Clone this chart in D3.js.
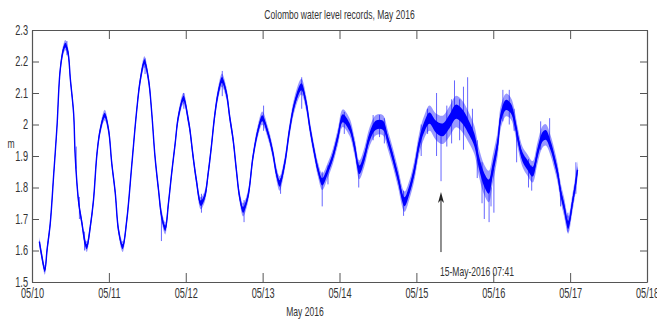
<!DOCTYPE html>
<html>
<head>
<meta charset="utf-8">
<script src="https://cdn.jsdelivr.net/npm/d3@7"></script>
<style>
  body { margin: 0; background: #fff; }
  text { font-family: "Liberation Sans", Arial, sans-serif; fill: #333; }
</style>
</head>
<body>
<div id="chart"></div>
<script>
// hours since 10-May-2016 00:00, water level (m)
const hours = [
  2.3, 3.1, 4.0, 4.7, 5.7, 6.8, 7.8, 8.8, 9.9, 10.4, 11.2, 12.0, 13.0, 13.5, 14.6, 15.6, 16.6, 17.1,
  18.2, 19.2, 20.3, 21.3, 22.7, 23.9, 24.9, 26.0, 27.0, 28.3, 29.6, 31.2, 32.7, 33.8, 35.1, 36.4,
  37.4, 38.4, 39.5, 40.5, 41.6, 42.6, 43.6, 44.7, 45.7, 47.3, 48.8, 49.3, 50.3, 51.3, 52.7, 53.9,
  55.0, 56.0, 57.0, 58.1, 59.3, 60.7, 61.7, 62.8, 63.8, 64.8, 65.9, 67.4, 69.0, 70.6, 71.9, 73.7,
  75.2, 76.3, 77.3, 78.9, 80.4, 82.0, 84.1, 85.6, 86.7, 88.2, 89.3, 90.6, 92.4, 93.9, 95.5, 97.0,
  99.1, 100.7, 102.2, 103.8, 105.4, 107.4, 109.5, 111.1, 112.6, 114.2, 116.3, 117.8, 119.4, 120.9,
  122.5, 124.1, 126.1, 128.2, 130.3, 132.4, 134.4, 136.5, 138.1, 139.6, 141.2, 142.6, 143.8, 145.4,
  146.4, 148.0, 149.5, 150.6, 151.8, 153.1, 154.7, 156.3, 157.8, 159.4, 160.4, 162.0, 163.0, 164.1,
  165.1, 166.1, 167.4, 168.7, 169.8, 170.3
];
const level = [
  1.628, 1.580, 1.538, 1.602, 1.686, 1.845, 1.993, 2.173, 2.242, 2.252, 2.231, 2.141, 2.035, 1.898, 1.750, 1.686, 1.623, 1.612,
  1.676, 1.760, 1.909, 1.983, 2.030, 1.983, 1.877, 1.782, 1.665, 1.612, 1.697, 1.877, 2.046, 2.141, 2.199, 2.141,
  2.035, 1.898, 1.792, 1.707, 1.670, 1.750, 1.845, 1.940, 2.025, 2.083, 2.014, 1.983, 1.898, 1.824, 1.750, 1.771,
  1.845, 1.930, 2.025, 2.099, 2.141, 2.099, 2.025, 1.951, 1.856, 1.771, 1.729, 1.771, 1.898, 1.983, 2.020, 1.972,
  1.909, 1.845, 1.813, 1.877, 1.983, 2.067, 2.120, 2.067, 1.993, 1.909, 1.856, 1.818, 1.856, 1.898, 1.961, 2.020,
  1.993, 1.930, 1.856, 1.898, 1.961, 1.998, 1.998, 1.951, 1.898, 1.834, 1.755, 1.792, 1.856, 1.940,
  1.993, 2.020, 1.993, 1.983, 2.009, 2.041, 2.025, 1.988, 1.951, 1.877, 1.824, 1.803, 1.856, 1.940,
  2.025, 2.062, 2.051, 2.014, 1.951, 1.898, 1.871, 1.850, 1.909, 1.961, 1.967, 1.930, 1.893, 1.845,
  1.782, 1.739, 1.681, 1.750, 1.818, 1.856
];
// half width of the noisy band around each reading
const spread = [
  0.015, 0.015, 0.015, 0.015, 0.014, 0.014, 0.014, 0.015, 0.016, 0.016, 0.016, 0.014, 0.014, 0.017, 0.015, 0.015, 0.017, 0.017,
  0.015, 0.015, 0.015, 0.015, 0.017, 0.015, 0.014, 0.014, 0.015, 0.017, 0.015, 0.014, 0.014, 0.016, 0.018, 0.016,
  0.014, 0.014, 0.016, 0.019, 0.019, 0.016, 0.014, 0.014, 0.016, 0.018, 0.016, 0.016, 0.016, 0.017, 0.019, 0.018,
  0.016, 0.016, 0.017, 0.019, 0.021, 0.019, 0.017, 0.016, 0.016, 0.017, 0.021, 0.019, 0.017, 0.019, 0.021, 0.019,
  0.019, 0.021, 0.023, 0.021, 0.021, 0.023, 0.025, 0.023, 0.021, 0.021, 0.023, 0.026, 0.024, 0.024, 0.026, 0.028,
  0.028, 0.028, 0.030, 0.030, 0.030, 0.032, 0.032, 0.030, 0.030, 0.030, 0.032, 0.030, 0.032, 0.034,
  0.036, 0.040, 0.042, 0.045, 0.048, 0.050, 0.050, 0.048, 0.045, 0.045, 0.048, 0.050, 0.045, 0.040,
  0.036, 0.036, 0.034, 0.034, 0.032, 0.032, 0.034, 0.034, 0.034, 0.034, 0.034, 0.032, 0.032, 0.030,
  0.030, 0.030, 0.028, 0.028, 0.028, 0.028
];
// single outlier spikes: hour, low, high
const spikeHours = [
  10.9, 13.8, 14.8, 16.4, 35.3, 40.4, 47.4, 52.9, 59.4, 66.2, 72.3, 77.6, 84.2, 90.6, 92.4,
  97.5, 102.0, 106.5, 108.5, 110.0, 116.0, 121.5, 123.5, 126.3, 127.7, 129.5, 131.0, 131.9, 133.5,
  134.7, 136.0, 137.5, 139.0, 140.5, 141.2, 142.7, 143.3, 144.2, 147.0, 149.0, 150.5, 151.3, 155.0,
  156.0, 158.8, 161.6, 165.0, 167.3, 169.8
];
const spikeLow = [
  2.22, 1.86, 1.70, 1.60, 2.16, 1.63, 2.05, 1.72, 2.09, 1.69, 1.98, 1.78, 2.05, 1.74, 1.81,
  1.97, 1.80, 1.95, 1.96, 1.94, 1.71, 1.90, 1.97, 1.90, 1.82, 1.93, 1.94, 2.02, 1.95,
  1.92, 2.00, 1.96, 1.83, 1.75, 1.70, 1.69, 1.74, 1.72, 2.01, 2.00, 1.98, 1.88, 1.80,
  1.79, 1.92, 1.93, 1.74, 1.66, 1.78
];
const spikeHigh = [
  2.265, 1.93, 1.77, 1.66, 2.21, 1.71, 2.10, 1.78, 2.17, 1.76, 2.06, 1.83, 2.15, 1.85, 1.87,
  2.04, 1.88, 2.03, 2.03, 2.02, 1.79, 2.00, 2.05, 2.10, 1.99, 2.06, 2.08, 2.14, 2.08,
  2.12, 2.15, 2.05, 1.95, 1.88, 1.84, 1.82, 1.80, 1.86, 2.11, 2.11, 2.05, 1.99, 1.89,
  1.87, 2.01, 2.02, 1.80, 1.72, 1.88
];

const yTicks = [1.5, 1.6, 1.7, 1.8, 1.9, 2, 2.1, 2.2, 2.3];
const annoHour = 5 * 24 + 7 + 41 / 60;
const annoText = '15-May-2016 07:41';
const annoFrom = 1.595, annoTo = 1.786;

const width = 657, height = 322;
const m = { left: 32, right: 647, top: 30, bottom: 282 };
const squeeze = 0.657; // the figure's text is horizontally compressed
const t0 = new Date(2016, 4, 10);
const toDate = (h) => new Date(t0.getTime() + h * 3600e3);

const svg = d3.select('#chart').append('svg')
  .attr('width', width).attr('height', height);

const x = d3.scaleTime()
  .domain([t0, new Date(2016, 4, 18)])
  .range([m.left, m.right]);
const y = d3.scaleLinear().domain([1.5, 2.3]).range([m.bottom, m.top]);

const rows = hours.map((h, i) => ({ t: toDate(h), v: level[i], s: spread[i] }));

const band = (k) => d3.area()
  .x((d) => x(d.t))
  .y0((d) => y(d.v - d.s * k))
  .y1((d) => y(d.v + d.s * k))
  .curve(d3.curveCatmullRom);

// noisy band: light fringe, solid core, then the trace itself
svg.append('path').datum(rows)
  .attr('fill', '#0000ff').attr('fill-opacity', 0.4)
  .attr('d', band(1));
svg.append('path').datum(rows)
  .attr('fill', '#0000ff')
  .attr('d', band(0.45));
svg.append('path').datum(rows)
  .attr('fill', 'none')
  .attr('stroke', '#0000ff')
  .attr('stroke-width', 1.4)
  .attr('d', d3.line().x((d) => x(d.t)).y((d) => y(d.v)).curve(d3.curveCatmullRom));

svg.append('g').selectAll('line')
  .data(spikeHours)
  .join('line')
  .attr('x1', (h) => x(toDate(h))).attr('x2', (h) => x(toDate(h)))
  .attr('y1', (h, i) => y(spikeLow[i])).attr('y2', (h, i) => y(spikeHigh[i]))
  .attr('stroke', '#0000ff').attr('stroke-opacity', 0.6).attr('stroke-width', 1);

// axes, MATLAB style: box with inward ticks
const fmt = d3.timeFormat('%m/%d');
const days = d3.timeDay.range(t0, new Date(2016, 4, 19));

const xBottom = svg.append('g')
  .attr('transform', `translate(0,${m.bottom})`)
  .call(d3.axisBottom(x).tickValues(days).tickFormat(fmt).tickSizeInner(-9).tickSizeOuter(0).tickPadding(6));
const xTop = svg.append('g')
  .attr('transform', `translate(0,${m.top})`)
  .call(d3.axisTop(x).tickValues(days).tickFormat('').tickSizeInner(-9).tickSizeOuter(0));
const yLeft = svg.append('g')
  .attr('transform', `translate(${m.left},0)`)
  .call(d3.axisLeft(y).tickValues(yTicks).tickFormat(d3.format('')).tickSizeInner(-7).tickSizeOuter(0).tickPadding(4));
const yRight = svg.append('g')
  .attr('transform', `translate(${m.right},0)`)
  .call(d3.axisRight(y).tickValues(yTicks).tickFormat('').tickSizeInner(-7).tickSizeOuter(0));

[xBottom, xTop, yLeft, yRight].forEach((g) => {
  g.selectAll('.domain').attr('stroke', '#555').attr('stroke-width', 1.2);
  g.selectAll('.tick line').attr('stroke', '#555');
  g.selectAll('.tick text')
    .style('font-size', '14px')
    .attr('fill', '#333')
    .attr('x', function () { return (+d3.select(this).attr('x') || 0) / squeeze; })
    .attr('transform', `scale(${squeeze},1)`);
});

// plain texts drawn squeezed like the rest of the figure
const label = (tx, ty, str, size, anchor) => svg.append('text')
  .attr('transform', `translate(${tx},${ty}) scale(${squeeze},1)`)
  .attr('text-anchor', anchor)
  .style('font-size', size + 'px')
  .text(str);

// annotation arrow
const ax = x(toDate(annoHour));
svg.append('line')
  .attr('x1', ax).attr('x2', ax)
  .attr('y1', y(annoFrom)).attr('y2', y(annoTo) + 6)
  .attr('stroke', '#222').attr('stroke-width', 1);
svg.append('path')
  .attr('d', `M${ax},${y(annoTo)} L${ax - 3},${y(annoTo) + 11} L${ax},${y(annoTo) + 8} L${ax + 3},${y(annoTo) + 11} Z`)
  .attr('fill', '#222');
label(ax - 1, y(annoFrom) + 24, annoText, 13, 'start');

// titles
label((m.left + m.right) / 2, 19, 'Colombo water level records, May 2016', 13, 'middle');
label(305, 316, 'May 2016', 13, 'middle');
label(11, 148, 'm', 13, 'middle');
</script>
</body>
</html>
